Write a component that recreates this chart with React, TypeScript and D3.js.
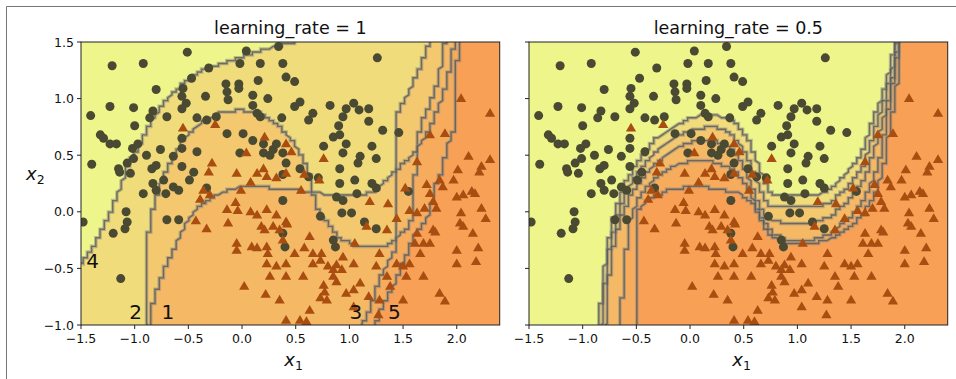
import React from "react";
import * as d3 from "d3";

// ---------- data ----------
const circles: [number, number][] = [
  [-0.51, 1.41], [0.04, 1.42], [0.34, 1.46], [-1.21, 1.29], [-0.92, 1.31], [-0.31, 1.27], [-0.02, 1.31],
  [0.17, 1.31], [0.38, 1.31], [1.26, 1.36], [-0.47, 1.18], [-0.8, 1.08], [-0.55, 1.09], [-1.23, 0.93],
  [-1.01, 0.92], [-1.41, 0.85], [-1.0, 0.76], [-0.15, 1.13], [-0.03, 1.13], [0.15, 1.16], [0.41, 1.19],
  [0.49, 1.15], [-0.14, 1.06], [-0.03, 1.09], [0.1, 1.03], [0.24, 1.0], [-0.34, 1.02], [-0.56, 1.02],
  [-0.52, 0.96], [-0.83, 0.89], [-0.86, 0.83], [-0.7, 0.84], [-0.56, 0.91], [-0.42, 0.83], [-0.33, 0.81],
  [-0.24, 0.84], [-0.13, 0.99], [0.1, 0.94], [0.14, 0.87], [0.17, 0.84], [0.37, 0.83], [0.49, 0.93],
  [0.54, 0.97], [0.66, 0.87], [0.62, 0.81], [0.82, 0.94], [1.04, 0.96], [0.97, 0.91], [1.09, 0.9],
  [1.18, 0.91], [0.9, 0.76], [0.94, 0.84], [1.18, 0.8], [1.31, 0.72], [1.46, 0.7], [-1.32, 0.68],
  [-1.29, 0.65], [-1.23, 0.6], [-1.17, 0.6], [-1.4, 0.42], [-1.15, 0.38], [-1.07, 0.43], [-1.02, 0.56],
  [-0.97, 0.6], [-1.01, 0.47], [-0.89, 0.5], [-0.76, 0.55], [-0.64, 0.49], [-0.84, 0.38], [-0.8, 0.41],
  [-1.04, 0.34], [-1.14, 0.35], [-0.56, 0.65], [-0.56, 0.56], [-0.42, 0.53], [-0.56, 0.4], [-0.45, 0.35],
  [-0.64, 0.22], [-0.73, 0.28], [-0.83, 0.25], [-0.92, 0.16], [-0.8, 0.19], [-0.71, 0.16], [-0.59, 0.19],
  [-0.49, 0.28], [-0.33, 0.21], [-0.14, 0.69], [0.01, 0.69], [-0.02, 0.52], [0.1, 0.63], [0.2, 0.6],
  [0.29, 0.55], [0.38, 0.52], [0.41, 0.43], [0.38, 0.33], [0.54, 0.38], [0.38, 0.1], [0.32, 0.6],
  [0.2, 0.52], [0.26, 0.5], [0.62, 0.31], [0.71, 0.3], [0.76, 0.58], [0.85, 0.66], [0.91, 0.68],
  [0.97, 0.6], [0.94, 0.52], [1.1, 0.49], [1.08, 0.43], [1.21, 0.58], [1.25, 0.47], [0.91, 0.38],
  [0.91, 0.25], [1.05, 0.28], [1.25, 0.21], [1.21, 0.25], [1.07, 0.16], [0.88, 0.13], [0.94, 0.1],
  [0.93, -0.01], [1.02, -0.01], [1.14, -0.09], [1.25, -0.15], [0.73, -0.04], [0.85, -0.25], [0.87, -0.31],
  [0.38, -0.19], [0.4, -0.31], [-0.7, -0.07], [-0.59, -0.07], [-1.48, -0.09], [-1.08, 0.0], [-1.07, -0.09],
  [-1.09, -0.15], [-1.2, -0.19], [-1.13, -0.59], [1.55, 0.18],
];

const triangles: [number, number][] = [
  [-0.55, 0.74], [-0.25, 0.77], [0.21, 0.66], [0.41, 0.6], [0.46, 0.53], [0.04, 0.52], [-0.28, 0.43],
  [-0.31, 0.35], [-0.05, 0.34], [0.14, 0.34], [0.2, 0.38], [0.23, 0.31], [0.32, 0.3], [0.41, 0.34],
  [0.58, 0.33], [0.72, 0.28], [0.76, 0.47], [0.08, 0.26], [-0.01, 0.19], [-0.36, 0.19], [-0.39, 0.11],
  [-0.3, 0.15], [-0.14, 0.02], [-0.06, 0.08], [-0.04, 0.01], [0.08, 0.0], [0.14, -0.03], [0.23, 0.02],
  [0.32, -0.03], [0.41, -0.09], [0.55, 0.19], [-0.43, -0.08], [-0.33, -0.15], [-0.13, -0.1], [-0.05, -0.28],
  [0.09, -0.31], [0.14, -0.32], [0.18, -0.13], [0.21, -0.16], [0.29, -0.13], [0.35, -0.16], [0.38, -0.25],
  [0.42, -0.11], [0.49, -0.37], [0.58, -0.32], [0.63, -0.22], [0.66, -0.37], [0.23, -0.31], [0.24, -0.37],
  [0.23, -0.46], [0.32, -0.48], [0.41, -0.46], [0.57, -0.57], [0.66, -0.46], [0.73, -0.43], [0.74, -0.37],
  [0.8, -0.48], [0.85, -0.51], [0.88, -0.47], [0.94, -0.4], [1.04, -0.46], [0.93, -0.51], [0.85, -0.57],
  [0.76, -0.65], [0.77, -0.71], [0.79, -0.78], [0.73, -0.76], [0.88, -0.62], [0.97, -0.72], [1.04, -0.69],
  [1.1, -0.63], [1.05, -0.28], [1.18, -0.75], [0.26, -0.57], [0.41, -0.57], [0.22, -0.73], [0.35, -0.78],
  [0.02, -0.66], [0.63, -0.87], [0.54, -0.96], [0.41, -0.96], [0.6, -0.97], [-0.05, -0.34], [1.04, -0.84],
  [1.27, -0.91], [1.28, -0.37], [1.16, -0.13], [1.19, 0.09], [1.36, 0.07], [1.35, -0.16], [1.44, -0.06],
  [1.25, -0.48], [1.35, -0.57], [1.44, -0.46], [1.5, -0.48], [1.53, -0.57], [1.38, -0.66], [1.5, -0.78],
  [1.28, -0.78], [1.63, 0.44], [1.52, 0.21], [1.56, 0.01], [1.63, -0.01], [1.63, -0.19], [1.61, -0.28],
  [1.66, -0.37], [1.69, -0.28], [1.75, -0.28], [1.78, -0.16], [1.56, -0.46], [1.69, -0.57], [1.72, 0.24],
  [1.75, 0.16], [1.78, 0.09], [1.81, 0.03], [1.84, 0.28], [1.87, 0.22], [1.7, 0.03], [1.75, 0.68],
  [1.89, 0.69], [2.04, 1.0], [2.31, 0.87], [2.11, 0.49], [2.23, 0.4], [2.31, 0.46], [2.21, 0.35],
  [2.01, 0.37], [1.97, 0.28], [2.0, 0.13], [2.06, 0.15], [2.14, 0.18], [2.17, 0.16], [2.04, -0.01],
  [2.03, -0.1], [2.06, -0.13], [2.23, 0.03], [2.27, -0.06], [2.15, -0.19], [2.2, -0.32], [2.0, -0.34],
  [2.0, -0.46], [2.18, -0.44], [1.84, -0.72], [1.89, -0.79], [1.8, -0.18],
];

// decision boundaries, learning_rate = 1 (predictors 1..5)
const boundaryL1: [number, number][] = [
  [-0.85, -1.0], [-0.84, -0.85], [-0.8, -0.72], [-0.73, -0.52], [-0.67, -0.4], [-0.6, -0.25], [-0.52, -0.1],
  [-0.42, 0.03], [-0.33, 0.1], [-0.14, 0.19], [0.04, 0.23], [0.29, 0.21], [0.5, 0.19], [0.66, 0.17],
  [0.72, -0.01], [0.82, -0.13], [0.91, -0.23], [1.07, -0.31], [1.35, -0.31], [1.47, -0.2], [1.56, -0.13],
  [1.61, 0.1], [1.61, 0.28], [1.62, 0.5], [1.66, 0.77], [1.75, 0.94], [1.82, 1.15], [1.87, 1.36], [1.89, 1.5],
];
const boundaryL2: [number, number][] = [
  [-0.88, -1.0], [-0.88, -0.28], [-0.86, -0.07], [-0.8, 0.13], [-0.76, 0.25], [-0.67, 0.43], [-0.55, 0.63],
  [-0.39, 0.78], [-0.21, 0.87], [-0.02, 0.9], [0.17, 0.87], [0.35, 0.76], [0.48, 0.61], [0.57, 0.47],
  [0.63, 0.31], [0.66, 0.18], [0.8, 0.15], [0.97, 0.15], [1.15, 0.16], [1.25, 0.19], [1.44, 0.37],
  [1.6, 0.52], [1.72, 0.68], [1.8, 0.85], [1.88, 1.05], [1.94, 1.28], [1.98, 1.5],
];
const boundaryL3: [number, number][] = [
  [1.11, -1.0], [1.19, -0.87], [1.28, -0.6], [1.36, -0.45], [1.42, -0.35], [1.42, 0.0], [1.43, 0.5],
  [1.44, 0.86], [1.52, 1.0], [1.6, 1.15], [1.67, 1.3], [1.75, 1.5],
];
const boundaryL4: [number, number][] = [
  [-1.5, -0.45], [-1.4, -0.33], [-1.32, -0.19], [-1.25, -0.05], [-1.18, 0.1], [-1.12, 0.25], [-1.07, 0.4],
  [-0.95, 0.6], [-0.86, 0.78], [-0.7, 0.99], [-0.52, 1.16], [-0.33, 1.27], [-0.08, 1.34], [0.23, 1.44], [0.48, 1.5],
];
const boundaryL5: [number, number][] = [
  [1.24, -1.0], [1.31, -0.84], [1.41, -0.66], [1.47, -0.51], [1.53, -0.4], [1.59, -0.22], [1.72, -0.07],
  [1.78, 0.1], [1.81, 0.25], [1.87, 0.37], [1.9, 0.55], [1.97, 0.72], [1.98, 1.08], [2.0, 1.31], [2.04, 1.5],
];

// decision boundaries, learning_rate = 0.5 (outer to inner)
const boundaryR1: [number, number][] = [
  [-0.85, -1.0], [-0.82, -0.72], [-0.78, -0.37], [-0.71, -0.04], [-0.62, 0.22], [-0.5, 0.43], [-0.34, 0.63],
  [-0.15, 0.75], [0.03, 0.84], [0.22, 0.855], [0.41, 0.81], [0.53, 0.66], [0.62, 0.46], [0.69, 0.28],
  [0.75, 0.16], [0.9, 0.14], [1.15, 0.14], [1.28, 0.18], [1.46, 0.34], [1.6, 0.52], [1.68, 0.75],
  [1.8, 1.05], [1.88, 1.34], [1.91, 1.5],
];
const boundaryR2: [number, number][] = [
  [-0.83, -1.0], [-0.8, -0.72], [-0.76, -0.37], [-0.68, -0.04], [-0.58, 0.2], [-0.46, 0.38], [-0.3, 0.55],
  [-0.12, 0.67], [0.03, 0.73], [0.22, 0.75], [0.38, 0.7], [0.5, 0.55], [0.58, 0.38], [0.66, 0.18],
  [0.74, 0.05], [0.9, 0.04], [1.15, 0.04], [1.3, 0.08], [1.47, 0.22], [1.62, 0.42], [1.72, 0.72],
  [1.82, 1.02], [1.9, 1.32], [1.93, 1.5],
];
const boundaryR3: [number, number][] = [
  [-0.79, -1.0], [-0.77, -0.72], [-0.73, -0.37], [-0.64, -0.04], [-0.54, 0.17], [-0.42, 0.33], [-0.27, 0.47],
  [-0.1, 0.58], [0.03, 0.62], [0.22, 0.63], [0.38, 0.57], [0.48, 0.43], [0.57, 0.25], [0.64, 0.06],
  [0.72, -0.06], [0.9, -0.1], [1.15, -0.1], [1.3, -0.05], [1.48, 0.1], [1.64, 0.32], [1.76, 0.68],
  [1.85, 0.98], [1.91, 1.3], [1.94, 1.5],
];
const boundaryR4: [number, number][] = [
  [-0.65, -1.0], [-0.63, -0.72], [-0.6, -0.37], [-0.55, -0.04], [-0.46, 0.15], [-0.33, 0.3], [-0.18, 0.4],
  [0.03, 0.45], [0.22, 0.44], [0.4, 0.38], [0.52, 0.25], [0.6, 0.08], [0.68, -0.08], [0.78, -0.2],
  [0.92, -0.25], [1.15, -0.25], [1.3, -0.2], [1.48, -0.06], [1.63, 0.12], [1.76, 0.42], [1.83, 0.8],
  [1.9, 1.2], [1.95, 1.5],
];
const boundaryR5: [number, number][] = [
  [-0.5, -1.0], [-0.5, -0.01], [-0.4, 0.1], [-0.22, 0.19], [0.0, 0.22], [0.22, 0.21], [0.47, 0.16],
  [0.59, 0.07], [0.65, -0.04], [0.72, -0.19], [0.84, -0.25], [0.93, -0.28], [1.15, -0.28], [1.28, -0.25],
  [1.46, -0.16], [1.62, -0.01], [1.74, 0.19], [1.82, 0.46], [1.86, 0.75], [1.92, 1.05], [1.95, 1.34], [1.96, 1.5],
];

const leftBoundaries = [boundaryL1, boundaryL2, boundaryL3, boundaryL4, boundaryL5];
const rightBoundaries = [boundaryR1, boundaryR2, boundaryR3, boundaryR4, boundaryR5];

const predictorLabels = [
  { text: "1", x: -0.75, y: -0.95 },
  { text: "2", x: -1.05, y: -0.95 },
  { text: "3", x: 1.0, y: -0.95 },
  { text: "4", x: -1.45, y: -0.5 },
  { text: "5", x: 1.36, y: -0.95 },
];

const xTicks = [-1.5, -1.0, -0.5, 0.0, 0.5, 1.0, 1.5, 2.0];
const yTicks = [-1.0, -0.5, 0.0, 0.5, 1.0, 1.5];
const titles = ["learning_rate = 1", "learning_rate = 0.5"];

// ---------- styling ----------
const FONT = "DejaVu Sans, sans-serif";
const BASE = "#eef58b";
const ORANGE = "#fd793a";
const LAYER_OPACITY = 0.2;
const CIRCLE = "#4a4a33";
const TRI = "#a94e10";

// the predictions were evaluated on a 100 x 100 grid: render boundaries on that grid
const GX = 3.9 / 99;
const GY = 2.5 / 99;
function toGrid(b: [number, number][]): [number, number][] {
  const out: [number, number][] = [b[0]];
  const snap = (px: number, py: number): [number, number] => [
    -1.5 + (Math.floor((px + 1.5) / GX) + 0.5) * GX,
    -1 + (Math.floor((py + 1) / GY) + 0.5) * GY,
  ];
  for (let i = 0; i < b.length - 1; i++) {
    const [ax, ay] = b[i];
    const [bx, by] = b[i + 1];
    const n = Math.max(2, Math.ceil(Math.max(Math.abs(bx - ax) / GX, Math.abs(by - ay) / GY) * 4));
    for (let k = 0; k <= n; k++) {
      const t = k / n;
      const s = snap(ax + (bx - ax) * t, ay + (by - ay) * t);
      const last = out[out.length - 1];
      if (Math.abs(last[0] - s[0]) > 1e-9 || Math.abs(last[1] - s[1]) > 1e-9) out.push(s);
    }
  }
  out.push(b[b.length - 1]);
  return out;
}

const fmt = (v: number) => (v < 0 ? "\u2212" : "") + Math.abs(v).toFixed(1);

function Panel({ left, idx, boundaries, showY, labels }: any) {
  const x = d3.scaleLinear().domain([-1.5, 2.4]).range([left, left + 418.7]);
  const y = d3.scaleLinear().domain([-1, 1.5]).range([325, 42]);
  const line = d3.line<[number, number]>().x((d) => x(d[0])).y((d) => y(d[1]));
  const clipId = `clip${idx}`;
  const x0 = x(-1.5), x1 = x(2.4), y0 = y(1.5), y1 = y(-1);
  const closing: [number, number][] = [[2.45, 1.55], [2.45, -1.05], [-1.55, -1.05]];
  const grids = boundaries.map((b: [number, number][]) => toGrid(b));
  const tri = (cx: number, cy: number) => {
    const s = 5.4;
    return `M${cx},${cy - s}L${cx + s * 0.95},${cy + s * 0.62}L${cx - s * 0.95},${cy + s * 0.62}Z`;
  };
  const cx = (x0 + x1) / 2;
  return (
    <g>
      <defs>
        <clipPath id={clipId}>
          <rect x={x0} y={y0} width={x1 - x0} height={y1 - y0} />
        </clipPath>
      </defs>
      <g clipPath={`url(#${clipId})`}>
        <rect x={x0} y={y0} width={x1 - x0} height={y1 - y0} fill={BASE} />
        {grids.map((b: [number, number][], i: number) => (
          <path key={"f" + i} d={line([...b, ...closing]) + "Z"} fill={ORANGE} fillOpacity={LAYER_OPACITY} />
        ))}
        {grids.map((b: [number, number][], i: number) => (
          <g key={"l" + i}>
            <path d={line(b) || ""} fill="none" stroke="#8c8c86" strokeOpacity={0.55} strokeWidth={3.6} strokeLinejoin="miter" />
            <path d={line(b) || ""} fill="none" stroke="#4f4f4c" strokeOpacity={0.7} strokeWidth={1.4} strokeLinejoin="miter" />
          </g>
        ))}
        {circles.map((p, i) => (
          <circle key={"c" + i} cx={x(p[0])} cy={y(p[1])} r={4.5} fill={CIRCLE} />
        ))}
        {triangles.map((p, i) => (
          <path key={"t" + i} d={tri(x(p[0]), y(p[1]))} fill={TRI} />
        ))}
      </g>
      <rect x={x0} y={y0} width={x1 - x0} height={y1 - y0} fill="none" stroke="#222" strokeWidth={1} />
      {xTicks.map((t) => (
        <g key={"xt" + t}>
          <line x1={x(t)} x2={x(t)} y1={y1} y2={y1 + 4} stroke="#222" strokeWidth={1} />
          <text x={x(t)} y={y1 + 18} textAnchor="middle" fontSize={12.5} fontFamily={FONT} fill="#111">{fmt(t)}</text>
        </g>
      ))}
      {yTicks.map((t) => (
        <g key={"yt" + t}>
          <line x1={x0 - 4} x2={x0} y1={y(t)} y2={y(t)} stroke="#222" strokeWidth={1} />
          {showY && (
            <text x={x0 - 7} y={y(t) + 4.5} textAnchor="end" fontSize={12.5} fontFamily={FONT} fill="#111">{fmt(t)}</text>
          )}
        </g>
      ))}
      <text x={cx} y={34} textAnchor="middle" fontSize={17.5} fontFamily={FONT} fill="#111">{titles[idx]}</text>
      <text x={cx - 6} y={366} fontSize={18} fontFamily={FONT} fill="#111">
        <tspan fontStyle="italic">x</tspan>
        <tspan fontSize={12.5} dy={4}>1</tspan>
      </text>
      {showY && (
        <text x={26} y={180} fontSize={18} fontFamily={FONT} fill="#111">
          <tspan fontStyle="italic">x</tspan>
          <tspan fontSize={12.5} dy={4}>2</tspan>
        </text>
      )}
      {labels &&
        predictorLabels.map((l) => (
          <text key={"pl" + l.text} x={x(l.x)} y={y(l.y)} fontSize={20} fontFamily={FONT} fill="#111">{l.text}</text>
        ))}
    </g>
  );
}

export default function App() {
  return (
    <svg width={956} height={379} style={{ position: "absolute", left: 0, top: 0, background: "#fff" }}>
      <rect x={0} y={0} width={956} height={379} fill="#fff" />
      <line x1={6.5} x2={956} y1={6.5} y2={6.5} stroke="#777" strokeWidth={1} />
      <line x1={6.5} x2={6.5} y1={6.5} y2={379} stroke="#777" strokeWidth={1} />
      <Panel left={81} idx={0} boundaries={leftBoundaries} showY={true} labels={true} />
      <Panel left={529} idx={1} boundaries={rightBoundaries} showY={false} labels={false} />
    </svg>
  );
}
